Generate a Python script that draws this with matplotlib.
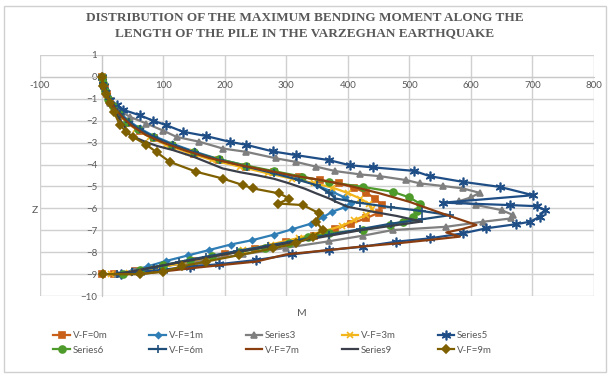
import matplotlib.pyplot as plt
from matplotlib.patches import Rectangle

# moment M (x) against depth z (y) for each case
vf0_m = [0, 2, 5, 9, 14, 22, 32, 45, 62, 85, 115, 150, 190, 235, 280, 320, 355, 385, 410, 430, 445, 455, 450, 430, 405, 380, 345, 300, 250, 200, 150, 100, 55, 20, 0]
vf0_z = [0, -0.25, -0.5, -0.8, -1.1, -1.45, -1.8, -2.1, -2.45, -2.8, -3.15, -3.5, -3.8, -4.1, -4.35, -4.55, -4.7, -4.85, -5.05, -5.3, -5.55, -5.85, -6.2, -6.45, -6.7, -6.95, -7.25, -7.55, -7.85, -8.1, -8.4, -8.65, -8.85, -9.0, -9.0]

vf1_m = [0, 3, 7, 12, 20, 30, 44, 62, 85, 115, 150, 190, 235, 280, 320, 350, 375, 395, 405, 395, 375, 360, 340, 310, 280, 245, 210, 175, 140, 105, 75, 50, 30]
vf1_z = [0, -0.3, -0.6, -0.95, -1.3, -1.65, -2.0, -2.35, -2.7, -3.05, -3.4, -3.75, -4.05, -4.35, -4.65, -4.95, -5.25, -5.5, -5.75, -5.95, -6.15, -6.4, -6.7, -6.95, -7.2, -7.45, -7.65, -7.9, -8.15, -8.4, -8.65, -8.85, -9.0]

s3_m = [0, 3, 8, 14, 30, 46, 73, 100, 122, 159, 197, 235, 284, 316, 349, 380, 420, 452, 495, 517, 555, 587, 614, 600, 580, 609, 650, 669, 665, 620, 560, 473, 424, 370, 300, 230, 160, 100, 55, 25]
s3_z = [0, -0.3, -0.7, -1.2, -1.55, -1.82, -2.13, -2.45, -2.74, -2.96, -3.27, -3.42, -3.72, -3.88, -4.1, -4.3, -4.45, -4.53, -4.71, -4.86, -4.98, -5.09, -5.29, -5.5, -5.68, -5.85, -6.08, -6.31, -6.46, -6.61, -6.84, -6.99, -7.25, -7.5, -7.8, -8.1, -8.4, -8.65, -8.85, -9.0]

vf3_m = [0, 2, 6, 11, 18, 28, 40, 56, 78, 105, 140, 180, 225, 270, 310, 345, 375, 400, 420, 435, 440, 430, 410, 390, 360, 320, 275, 230, 180, 130, 85, 45, 15]
vf3_z = [0, -0.3, -0.65, -1.0, -1.35, -1.7, -2.05, -2.4, -2.75, -3.1, -3.45, -3.8, -4.1, -4.4, -4.65, -4.85, -5.05, -5.3, -5.55, -5.8, -6.05, -6.3, -6.55, -6.8, -7.05, -7.35, -7.65, -7.9, -8.2, -8.5, -8.75, -8.95, -9.0]

s5_m = [0, 4, 13.5, 25, 35, 62, 84, 105, 132, 170, 208, 235, 278, 316, 370, 403, 441, 508, 533, 587, 647, 701, 555, 663, 707, 720, 712, 696, 674, 625, 587, 533, 479, 424, 370, 310, 251, 190, 143, 100, 62, 32]
s5_z = [0, -0.4, -1.06, -1.3, -1.5, -1.75, -2.0, -2.2, -2.5, -2.7, -2.96, -3.1, -3.4, -3.57, -3.8, -4.03, -4.13, -4.29, -4.53, -4.79, -5.02, -5.4, -5.74, -5.85, -5.9, -6.08, -6.38, -6.61, -6.72, -6.91, -7.14, -7.37, -7.52, -7.75, -7.9, -8.1, -8.36, -8.55, -8.66, -8.8, -8.9, -9.0]

s6_m = [0, 2, 6, 11, 18, 28, 42, 60, 84, 114, 150, 190, 235, 280, 325, 370, 424, 473, 500, 517, 512, 506, 490, 468, 424, 370, 335, 305, 265, 224, 180, 143, 100, 62, 35]
s6_z = [0, -0.3, -0.65, -1.0, -1.35, -1.7, -2.05, -2.4, -2.75, -3.1, -3.45, -3.75, -4.05, -4.3, -4.55, -4.8, -5.02, -5.24, -5.5, -5.78, -6.1, -6.38, -6.61, -6.76, -6.99, -7.14, -7.3, -7.6, -7.8, -7.98, -8.18, -8.36, -8.6, -8.81, -9.0]

vf6_m = [0, 3, 7, 12, 20, 30, 44, 62, 86, 116, 152, 192, 236, 280, 320, 350, 370, 380, 420, 470, 520, 566, 520, 470, 420, 370, 320, 270, 220, 170, 125, 85, 50, 25]
vf6_z = [0, -0.3, -0.65, -1.0, -1.35, -1.7, -2.05, -2.4, -2.75, -3.1, -3.45, -3.8, -4.1, -4.4, -4.7, -4.95, -5.3, -5.55, -5.75, -5.95, -6.12, -6.31, -6.5, -6.7, -6.95, -7.2, -7.45, -7.7, -7.95, -8.2, -8.45, -8.7, -8.9, -9.0]

vf7_m = [0, 3, 8, 14, 22, 34, 50, 72, 100, 135, 175, 220, 265, 310, 355, 400, 450, 500, 550, 609, 585, 560, 582, 530, 479, 420, 370, 300, 251, 190, 143, 100, 62, 10]
vf7_z = [0, -0.35, -0.75, -1.1, -1.45, -1.85, -2.25, -2.65, -3.0, -3.35, -3.7, -4.0, -4.25, -4.5, -4.7, -4.95, -5.3, -5.7, -6.2, -6.76, -6.95, -7.1, -7.29, -7.45, -7.6, -7.75, -7.9, -8.1, -8.43, -8.6, -8.74, -8.88, -9.0, -9.0]

s9_m = [0, 3, 8, 15, 25, 36, 46, 70, 90, 116, 150, 197, 225, 251, 280, 305, 330, 349, 370, 381, 400, 440, 480, 520, 470, 420, 370, 320, 270, 220, 170, 120, 80, 45, 20]
s9_z = [0, -0.4, -0.85, -1.3, -1.75, -2.2, -2.66, -2.95, -3.15, -3.34, -3.65, -4.18, -4.35, -4.48, -4.65, -4.86, -5.1, -5.32, -5.55, -5.7, -5.93, -6.15, -6.35, -6.6, -6.8, -7.0, -7.25, -7.5, -7.75, -8.0, -8.25, -8.5, -8.7, -8.9, -9.0]

vf9_m = [0, 3, 8, 13.5, 20, 30, 40, 51, 73, 90, 111, 154, 197, 230, 246, 289, 305, 287, 327, 354, 349, 359, 343, 316, 278, 224, 170, 130, 100, 62, 3]
vf9_z = [0, -0.4, -0.8, -1.2, -1.6, -2.2, -2.5, -2.74, -3.1, -3.45, -3.88, -4.33, -4.64, -4.94, -5.09, -5.32, -5.55, -5.78, -5.85, -6.23, -6.61, -6.99, -7.29, -7.6, -7.83, -8.13, -8.43, -8.65, -8.89, -9.0, -9.0]

x_ticks = [-100, 0, 100, 200, 300, 400, 500, 600, 700, 800]
y_ticks = [1, 0, -1, -2, -3, -4, -5, -6, -7, -8, -9, -10]

series = [
    (vf0_m, vf0_z, "V-F=0m", "#C8601A", "s", 4),
    (vf1_m, vf1_z, "V-F=1m", "#2E7DB5", "D", 3),
    (s3_m, s3_z, "Series3", "#7F7F7F", "^", 5),
    (vf3_m, vf3_z, "V-F=3m", "#F2B51C", "x", 5),
    (s5_m, s5_z, "Series5", "#1F4E86", (6, 2, 0), 7),
    (s6_m, s6_z, "Series6", "#4E9A2A", "o", 5),
    (vf6_m, vf6_z, "V-F=6m", "#1F4E79", "+", 6),
    (vf7_m, vf7_z, "V-F=7m", "#8A3E10", None, 0),
    (s9_m, s9_z, "Series9", "#3A3F4A", None, 0),
    (vf9_m, vf9_z, "V-F=9m", "#7F6000", "D", 4),
]

fig = plt.figure(figsize=(6.1, 3.75), dpi=100)
ax = fig.add_axes([40 / 610, 1 - 296 / 375, 554 / 610, 241 / 375])

lines = []
for m, z, label, color, marker, ms in series:
    ln, = ax.plot(m, z, color=color, linewidth=1.6, marker=marker, markersize=ms,
                  markeredgewidth=1.2, label=label, zorder=3)
    lines.append(ln)

ax.set_xlim(-100, 800)
ax.set_ylim(-10, 1)
ax.set_xticks(x_ticks)
ax.set_xticklabels(["" if t == 0 else str(t) for t in x_ticks])
ax.set_yticks(y_ticks)
ax.grid(True, color="#D0D0D0", linewidth=1.0, zorder=0)
ax.set_axisbelow(True)

# axes cross at the origin, like the spreadsheet chart
ax.spines["left"].set_position(("data", 0))
ax.spines["bottom"].set_position(("data", 0))
for side in ["left", "bottom"]:
    ax.spines[side].set_color("#C8C8C8")
for side in ["right", "top"]:
    ax.spines[side].set_visible(False)
ax.tick_params(length=0, labelsize=7, colors="#595959", pad=3)
for lab in ax.get_xticklabels() + ax.get_yticklabels():
    lab.set_fontfamily("Lato")

fig.text(35 / 610, 1 - 210 / 375, "Z", fontsize=7.5, color="#595959",
         family="Lato", ha="center", va="center")
fig.text(302 / 610, 1 - 313 / 375, "M", fontsize=7.5, color="#595959",
         family="Lato", ha="center", va="center")

fig.text(0.5, 1 - 18 / 375, "DISTRIBUTION OF THE MAXIMUM BENDING MOMENT ALONG THE",
         fontsize=9.5, fontweight="bold", family="Liberation Serif", color="#595959",
         ha="center", va="center")
fig.text(0.5, 1 - 33 / 375, "LENGTH OF THE PILE IN THE VARZEGHAN EARTHQUAKE",
         fontsize=9.5, fontweight="bold", family="Liberation Serif", color="#595959",
         ha="center", va="center")

# legend fills row by row: reorder for matplotlib's column-first layout
order = [0, 5, 1, 6, 2, 7, 3, 8, 4, 9]
leg = fig.legend([lines[i] for i in order], [series[i][2] for i in order],
                 loc="center", bbox_to_anchor=(0.447, 1 - 343 / 375), ncol=5,
                 frameon=False, handlelength=1.7, columnspacing=4.3,
                 handletextpad=0.3, labelspacing=0.55, prop={"family": "Lato", "size": 7})
for txt in leg.get_texts():
    txt.set_color("#595959")

fig.patches.append(Rectangle((4 / 610, 3 / 375), 602 / 610, 366 / 375,
                             transform=fig.transFigure, fill=False,
                             edgecolor="#D0D0D0", linewidth=1.0))

plt.savefig("out.png", dpi=100)
plt.close()
